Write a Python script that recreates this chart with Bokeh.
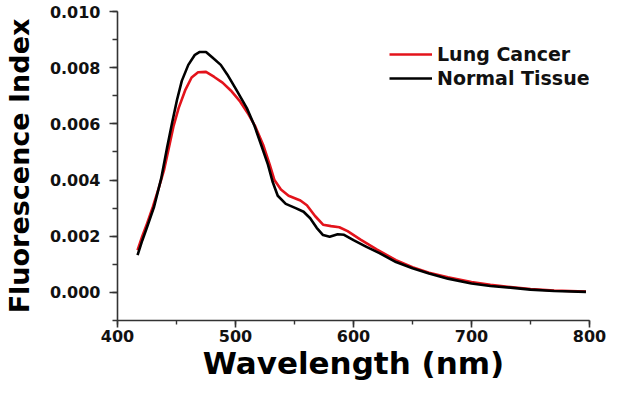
from bokeh.plotting import figure
from bokeh.models import Range1d, SingleIntervalTicker, PrintfTickFormatter, Legend, LegendItem
from bokeh.embed import file_html
from bokeh.resources import INLINE

# Lung Cancer (red)
wl_cancer = [417, 421, 425, 430, 435, 439.4, 443.5, 447.6, 451.8, 457.3, 462.8, 468.3, 475,
             482, 489, 496, 504, 511, 516.4, 523.4, 529, 533, 538.5, 545, 555, 560.5, 567.4,
             574.2, 581, 588, 595, 606, 620, 636, 650, 664, 680, 700, 716, 733, 750, 770, 797]
fi_cancer = [0.00150, 0.00200, 0.00245, 0.00305, 0.00372, 0.00435, 0.00514, 0.00594, 0.00656,
             0.00719, 0.00765, 0.00784, 0.00785, 0.00767, 0.00747, 0.00719, 0.00679, 0.00634,
             0.00594, 0.00526, 0.00455, 0.00400, 0.00366, 0.00344, 0.00327, 0.00310, 0.00272,
             0.00241, 0.00236, 0.00232, 0.00218, 0.00188, 0.00152, 0.00115, 0.00090, 0.00070,
             0.00054, 0.00037, 0.00027, 0.00019, 0.00012, 0.00007, 0.00003]

# Normal Tissue (black)
wl_normal = [417, 421, 425, 431, 437, 442, 446.2, 450.4, 454.5, 460, 465.6, 469.7, 475,
             480.7, 487.5, 493, 501, 509.6, 516, 522, 527.5, 531.6, 535.8, 542.6, 551, 557.7,
             563.3, 568.8, 574.2, 579.8, 586.6, 592, 600, 611, 622, 636, 650, 664, 680, 700,
             716, 733, 750, 770, 797]
fi_normal = [0.00133, 0.00185, 0.00232, 0.00305, 0.00405, 0.00515, 0.00602, 0.00685, 0.00753,
             0.00810, 0.00846, 0.00856, 0.00856, 0.00835, 0.00810, 0.00776, 0.00719, 0.00656,
             0.00594, 0.00522, 0.00455, 0.00392, 0.00344, 0.00315, 0.00300, 0.00287, 0.00264,
             0.00230, 0.00204, 0.00198, 0.00207, 0.00205, 0.00186, 0.00162, 0.00140, 0.00108,
             0.00086, 0.00067, 0.00049, 0.00032, 0.00023, 0.00017, 0.00010, 0.00005, 0.00002]

series_names = ["Lung Cancer", "Normal Tissue"]
x_label = "Wavelength (nm)"
y_label = "Fluorescence Index"

FONT = "DejaVu Sans"

p = figure(width=606, height=385, output_backend="svg", toolbar_location=None,
           x_range=Range1d(400, 800), y_range=Range1d(-0.001, 0.010),
           min_border_left=117, min_border_right=17, min_border_top=11, min_border_bottom=65)
p.outline_line_color = None
p.xgrid.visible = False
p.ygrid.visible = False
p.background_fill_color = "white"

r1 = p.line(wl_cancer, fi_cancer, line_color="#e3131b", line_width=2.6, line_join="round")
r2 = p.line(wl_normal, fi_normal, line_color="#000000", line_width=2.6, line_join="round")

p.xaxis.ticker = SingleIntervalTicker(interval=100, num_minor_ticks=2)
p.yaxis.ticker = SingleIntervalTicker(interval=0.002, num_minor_ticks=2)
p.yaxis.formatter = PrintfTickFormatter(format="%.3f")

for ax in (p.xaxis[0], p.yaxis[0]):
    ax.axis_line_color = "#333333"
    ax.axis_line_width = 1.6
    ax.major_tick_line_color = "#333333"
    ax.major_tick_line_width = 1.6
    ax.minor_tick_line_color = "#333333"
    ax.minor_tick_line_width = 1.4
    ax.major_tick_in = 0
    ax.minor_tick_in = 0
    ax.major_label_text_font = FONT
    ax.major_label_text_font_style = "bold"
    ax.major_label_text_font_size = "16px"
    ax.major_label_text_color = "#111111"
    ax.axis_label_text_font = FONT
    ax.axis_label_text_font_style = "bold"
    ax.axis_label_text_color = "#000000"

p.xaxis.major_tick_out = 7
p.xaxis.minor_tick_out = 4
p.xaxis.major_label_standoff = 2
p.xaxis.axis_label = x_label
p.xaxis.axis_label_text_font_size = "31px"
p.xaxis.axis_label_standoff = 0

p.yaxis.major_tick_out = 8
p.yaxis.minor_tick_out = 5
p.yaxis.major_label_standoff = 9
p.yaxis.axis_label = y_label
p.yaxis.axis_label_text_font_size = "27px"
p.yaxis.axis_label_standoff = 12

legend = Legend(items=[LegendItem(label=series_names[0], renderers=[r1]),
                       LegendItem(label=series_names[1], renderers=[r2])],
                location=(272, 230), orientation="vertical",
                padding=0, margin=0, spacing=0,
                glyph_width=43, glyph_height=24, label_standoff=5,
                label_text_font=FONT, label_text_font_style="bold",
                label_text_font_size="19px", label_text_color="#111111",
                border_line_color=None, background_fill_alpha=0)
p.add_layout(legend, "center")

open("out.html", "w").write(file_html(p, INLINE))
